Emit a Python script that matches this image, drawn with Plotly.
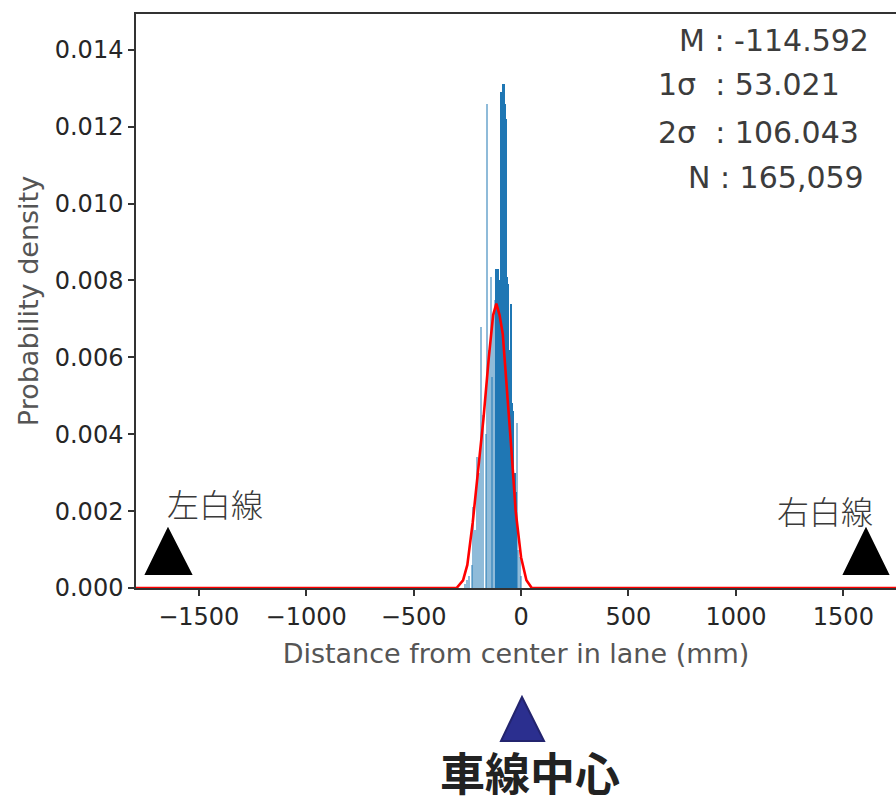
import plotly.graph_objects as go

# ---- data ----
bin_centers = [-265, -260, -255, -250, -245, -240, -235, -230, -225, -220,
               -215, -210, -205, -200, -195, -190, -185, -180, -175, -170,
               -165, -160, -155, -150, -145, -140, -135, -130, -125, -120,
               -115, -110, -105, -100, -95, -90, -85, -80, -75, -70,
               -65, -60, -55, -50, -45, -40, -35, -30, -25, -20,
               -15, -10, -5, 0, 5]
densities = [0, 0.0001, 0, 0.0002, 0, 0.0003, 0, 0.0006, 0.0021, 0,
             0.0015, 0, 0.0034, 0, 0.0030, 0, 0.0068, 0, 0.0045, 0,
             0.0040, 0.0126, 0, 0.0062, 0, 0.0081, 0.0055, 0.0070, 0, 0.0075,
             0.0083, 0.0078, 0.0083, 0.0080, 0.0129, 0.0122, 0.0131, 0.0131, 0.0126, 0.0122,
             0.0081, 0.0079, 0.0062, 0.0055, 0.0074, 0.0048, 0.0046, 0.0030, 0.0025, 0.0043,
             0.0010, 0, 0.0008, 0.0003, 0]
bin_width = 5

kde_x = [-1800, -300, -270, -250, -225, -200, -175, -150, -130, -115, -100,
         -85, -65, -45, -25, 0, 25, 50, 1800]
kde_y = [0, 0, 0.0002, 0.0006, 0.0017, 0.0031, 0.0044, 0.0060, 0.0071, 0.0074, 0.0071,
         0.0066, 0.0052, 0.0036, 0.0020, 0.0008, 0.0002, 0, 0]

x_ticks = [-1500, -1000, -500, 0, 500, 1000, 1500]
y_ticks = [0.000, 0.002, 0.004, 0.006, 0.008, 0.010, 0.012, 0.014]

stats_lines = ["M : -114.592", "1σ\u00a0 : 53.021", "2σ\u00a0 : 106.043", "N : 165,059"]
left_label = "左白線"
right_label = "右白線"
center_label = "車線中心"
x_title = "Distance from center in lane (mm)"
y_title = "Probability density"

# ---- geometry helpers (pixel -> paper) ----
W, H = 896, 803
L, R, T, B = 136, 896, 14, 588


def px(x):
    return (x - L) / (R - L)


def py(y):
    return (B - y) / (B - T)


opac = [0.5 if (c < -117 or c > -25) else 1.0 for c in bin_centers]

fig = go.Figure()
fig.add_trace(go.Bar(
    x=bin_centers, y=densities, width=[bin_width] * len(bin_centers),
    marker=dict(color="#1f77b4", opacity=opac, line=dict(width=0)),
    showlegend=False,
))
fig.add_trace(go.Scatter(
    x=kde_x, y=kde_y, mode="lines",
    line=dict(color="#ff0000", width=2.6),
    showlegend=False, cliponaxis=False,
))

shapes = []


def tri(apex, bl, br, fill, line):
    path = "M {} {} L {} {} L {} {} Z".format(px(apex[0]), py(apex[1]),
                                              px(bl[0]), py(bl[1]),
                                              px(br[0]), py(br[1]))
    return dict(type="path", xref="paper", yref="paper", path=path,
                fillcolor=fill, line=dict(color=line, width=2), layer="above")


shapes.append(tri((168, 529), (146, 574), (191, 574), "#000000", "#000000"))
shapes.append(tri((866, 529), (844, 574), (888, 574), "#000000", "#000000"))
shapes.append(tri((522, 697), (501, 741), (544, 741), "#2b2f8f", "#23246e"))

annotations = []
stat_x = [677, 656, 656, 686]
stat_y = [41, 85, 132, 177]
for s, sx, sy in zip(stats_lines, stat_x, stat_y):
    annotations.append(dict(text=s, x=px(sx), y=py(sy), xref="paper", yref="paper",
                            xanchor="left", yanchor="middle", showarrow=False,
                            font=dict(family="DejaVu Sans", size=30, color="#3c3c3c")))
annotations.append(dict(text=left_label, x=px(215), y=py(503), xref="paper", yref="paper",
                        xanchor="center", yanchor="middle", showarrow=False,
                        font=dict(family="Noto Sans CJK JP", size=32, color="#3a3a3a",
                                  weight=300)))
annotations.append(dict(text=right_label, x=px(825), y=py(510), xref="paper", yref="paper",
                        xanchor="center", yanchor="middle", showarrow=False,
                        font=dict(family="Noto Sans CJK JP", size=32, color="#3a3a3a",
                                  weight=300)))
annotations.append(dict(text="<b>" + center_label + "</b>", x=px(530), y=py(771),
                        xref="paper", yref="paper",
                        xanchor="center", yanchor="middle", showarrow=False,
                        font=dict(family="Noto Sans CJK JP", size=45, color="#222222")))

fig.update_layout(
    width=W, height=H,
    margin=dict(l=L, r=W - R, t=T, b=H - B, pad=0),
    paper_bgcolor="white", plot_bgcolor="white",
    bargap=0,
    shapes=shapes, annotations=annotations,
    xaxis=dict(
        range=[-1792, 1745], tickvals=x_ticks,
        ticktext=[("\u2212" + str(abs(v))) if v < 0 else str(v) for v in x_ticks],
        showgrid=False, zeroline=False,
        showline=True, linecolor="#333333", linewidth=1.5, mirror=True,
        ticks="outside", ticklen=6, tickwidth=1.5, tickcolor="#333333",
        tickfont=dict(family="DejaVu Sans", size=24, color="#262626"),
        title=dict(text=x_title, standoff=15,
                   font=dict(family="DejaVu Sans", size=27, color="#555555")),
    ),
    yaxis=dict(
        range=[0, 0.01493], tickvals=y_ticks,
        ticktext=["{:.3f}".format(v) for v in y_ticks],
        showgrid=False, zeroline=False,
        showline=True, linecolor="#333333", linewidth=1.5,
        ticks="outside", ticklen=6, tickwidth=1.5, tickcolor="#333333",
        tickfont=dict(family="DejaVu Sans", size=24, color="#262626"),
        title=dict(text=y_title, standoff=8,
                   font=dict(family="DejaVu Sans", size=27, color="#555555")),
    ),
)

fig.write_html("out.html")
